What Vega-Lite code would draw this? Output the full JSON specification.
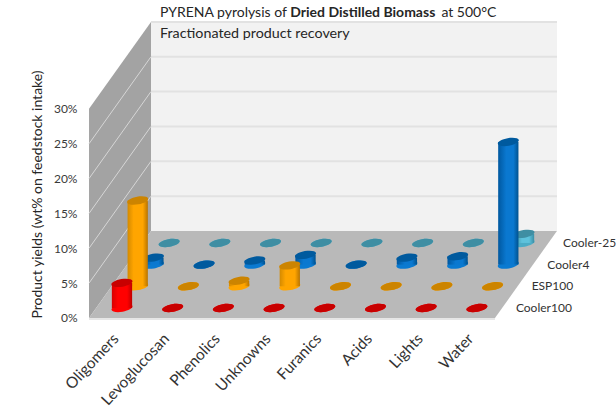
{
"$schema":"https://vega.github.io/schema/vega-lite/v6.json",
"width":616,"height":415,"padding":0,"autosize":{"type":"none"},"background":"white",
"config":{"view":{"stroke":null},"font":"Lato"},
"datasets":{
"depth":[{"d":0},{"d":1}],
"ticks":[{"t":5},{"t":10},{"t":15},{"t":20},{"t":25},{"t":30}],
"bars":[
{"category":"Oligomers","series":"Cooler100","value":3.6},{"category":"Levoglucosan","series":"Cooler100","value":0},{"category":"Phenolics","series":"Cooler100","value":0},{"category":"Unknowns","series":"Cooler100","value":0},{"category":"Furanics","series":"Cooler100","value":0},{"category":"Acids","series":"Cooler100","value":0},{"category":"Lights","series":"Cooler100","value":0},{"category":"Water","series":"Cooler100","value":0},
{"category":"Oligomers","series":"ESP100","value":12.3},{"category":"Levoglucosan","series":"ESP100","value":0},{"category":"Phenolics","series":"ESP100","value":0.8},{"category":"Unknowns","series":"ESP100","value":3},{"category":"Furanics","series":"ESP100","value":0},{"category":"Acids","series":"ESP100","value":0},{"category":"Lights","series":"ESP100","value":0},{"category":"Water","series":"ESP100","value":0},
{"category":"Oligomers","series":"Cooler4","value":1},{"category":"Levoglucosan","series":"Cooler4","value":0},{"category":"Phenolics","series":"Cooler4","value":0.6},{"category":"Unknowns","series":"Cooler4","value":1.4},{"category":"Furanics","series":"Cooler4","value":0},{"category":"Acids","series":"Cooler4","value":1},{"category":"Lights","series":"Cooler4","value":1.2},{"category":"Water","series":"Cooler4","value":17.6},
{"category":"Oligomers","series":"Cooler-25","value":0},{"category":"Levoglucosan","series":"Cooler-25","value":0},{"category":"Phenolics","series":"Cooler-25","value":0},{"category":"Unknowns","series":"Cooler-25","value":0},{"category":"Furanics","series":"Cooler-25","value":0},{"category":"Acids","series":"Cooler-25","value":0},{"category":"Lights","series":"Cooler-25","value":0},{"category":"Water","series":"Cooler-25","value":1.3}
]},
"data":{"name":"bars"},
"transform":[
{"calculate":"indexof(['Oligomers','Levoglucosan','Phenolics','Unknowns','Furanics','Acids','Lights','Water'],datum.category)","as":"c"},
{"calculate":"indexof(['Cooler100','ESP100','Cooler4','Cooler-25'],datum.series)","as":"s"},
{"calculate":"datum.c+0.31*datum.s","as":"px"},
{"calculate":"datum.px+0.2","as":"px2"},
{"calculate":"1.435+3.11*datum.s","as":"base"},
{"calculate":"datum.base+datum.value","as":"py"}
],
"encoding":{
"x":{"field":"px","type":"quantitative","scale":{"domain":[-2.406,9.744],"range":[0,616],"nice":false,"zero":false},"axis":null},
"y":{"field":"py","type":"quantitative","scale":{"domain":[-13.92,45.62],"range":[415,0],"nice":false,"zero":false},
"axis":{"values":[0,5,10,15,20,25,30],"labelExpr":"datum.value+'%'","offset":-80,"domain":false,"ticks":false,"grid":false,"labelPadding":3,"labelFont":"Lato","labelFontSize":12,"labelColor":"#3a3a3a","title":"Product yields (wt% on feedstock intake)","titleFont":"Lato","titleFontSize":14,"titleFontWeight":"normal","titleColor":"#262626","titleX":-36,"titleY":194}}
},
"layer":[
{"data":{"name":"depth"},"transform":[{"filter":"datum.d==0"},{"calculate":"0.572","as":"px"},{"calculate":"8.58","as":"px2"},{"calculate":"12.48","as":"py"},{"calculate":"42.48","as":"py2"}],
"mark":{"type":"rect","fill":"#f2f2f2"},"encoding":{"x2":{"field":"px2"},"y2":{"field":"py2"}}},
{"data":{"name":"ticks"},"transform":[{"calculate":"0.572","as":"px"},{"calculate":"8.58","as":"px2"},{"calculate":"datum.t+12.48","as":"py"}],
"mark":{"type":"rule","stroke":"#e2e2e2","strokeWidth":2},"encoding":{"x2":{"field":"px2"}}},
{"data":{"name":"depth"},"transform":[{"calculate":"-0.65+1.222*datum.d","as":"px"},{"calculate":"12.48*datum.d","as":"py"},{"calculate":"30+12.48*datum.d","as":"py2"}],
"mark":{"type":"area","orient":"vertical","fill":"#a3a3a3"},"encoding":{"y2":{"field":"py2"}}},
{"data":{"name":"ticks"},"transform":[{"filter":"datum.t<30"},{"calculate":"-0.65","as":"px"},{"calculate":"0.572","as":"px2"},{"calculate":"datum.t","as":"py"},{"calculate":"datum.t+12.48","as":"py2"}],
"mark":{"type":"rule","stroke":"#d6d6d6","strokeWidth":1},"encoding":{"x2":{"field":"px2"},"y2":{"field":"py2"}}},
{"data":{"name":"depth"},"transform":[{"calculate":"-0.65+1.222*datum.d","as":"px"},{"calculate":"7.357+1.222*datum.d","as":"px2"},{"calculate":"12.48*datum.d","as":"py"}],
"mark":{"type":"area","orient":"horizontal","fill":"#b9b9b9"},"encoding":{"x2":{"field":"px2"}}},
{"data":{"name":"depth"},"transform":[{"filter":"datum.d==0"},{"calculate":"-0.65","as":"px"},{"calculate":"7.357","as":"px2"},{"calculate":"-0.15","as":"py"}],
"mark":{"type":"rule","stroke":"#e6e6e6","strokeWidth":2},"encoding":{"x2":{"field":"px2"}}},

{"transform":[{"filter":"datum.series=='Cooler-25'"}],"layer":[
{"transform":[{"calculate":"datum.base","as":"py"}],"mark":{"type":"point","filled":true,"opacity":1,"size":454,"fill":"#4bacc6","strokeWidth":0,"shape":"M0.985,-0.174C1.02,0.022,0.606,0.259,0.0625,0.355C-0.481,0.451,-0.95,0.37,-0.985,0.174C-1.02,-0.022,-0.606,-0.259,-0.0625,-0.355C0.481,-0.451,0.95,-0.37,0.985,-0.174Z"}},
{"transform":[{"calculate":"datum.px-0.2","as":"px"}],"mark":{"type":"rect","fill":{"gradient":"linear","x1":0,"y1":0,"x2":1,"y2":0,"stops":[{"offset":0,"color":"#3a8ea5"},{"offset":0.4,"color":"#5ec2dc"},{"offset":0.75,"color":"#5ec2dc"},{"offset":1,"color":"#3a8ea5"}]}},"encoding":{"x2":{"field":"px2"},"y2":{"field":"base"}}},
{"mark":{"type":"point","filled":true,"opacity":1,"size":454,"fill":"#3f8ea3","strokeWidth":0,"shape":"M0.985,-0.174C1.02,0.022,0.606,0.259,0.0625,0.355C-0.481,0.451,-0.95,0.37,-0.985,0.174C-1.02,-0.022,-0.606,-0.259,-0.0625,-0.355C0.481,-0.451,0.95,-0.37,0.985,-0.174Z"}}
]},
{"transform":[{"filter":"datum.series=='Cooler4'"}],"layer":[
{"transform":[{"calculate":"datum.base","as":"py"}],"mark":{"type":"point","filled":true,"opacity":1,"size":454,"fill":"#0a7ad1","strokeWidth":0,"shape":"M0.985,-0.174C1.02,0.022,0.606,0.259,0.0625,0.355C-0.481,0.451,-0.95,0.37,-0.985,0.174C-1.02,-0.022,-0.606,-0.259,-0.0625,-0.355C0.481,-0.451,0.95,-0.37,0.985,-0.174Z"}},
{"transform":[{"calculate":"datum.px-0.2","as":"px"}],"mark":{"type":"rect","fill":{"gradient":"linear","x1":0,"y1":0,"x2":1,"y2":0,"stops":[{"offset":0,"color":"#0058a0"},{"offset":0.4,"color":"#0a78d0"},{"offset":0.75,"color":"#0a78d0"},{"offset":1,"color":"#00528f"}]}},"encoding":{"x2":{"field":"px2"},"y2":{"field":"base"}}},
{"mark":{"type":"point","filled":true,"opacity":1,"size":454,"fill":"#005a9e","strokeWidth":0,"shape":"M0.985,-0.174C1.02,0.022,0.606,0.259,0.0625,0.355C-0.481,0.451,-0.95,0.37,-0.985,0.174C-1.02,-0.022,-0.606,-0.259,-0.0625,-0.355C0.481,-0.451,0.95,-0.37,0.985,-0.174Z"}}
]},
{"transform":[{"filter":"datum.series=='ESP100'"}],"layer":[
{"transform":[{"calculate":"datum.base","as":"py"}],"mark":{"type":"point","filled":true,"opacity":1,"size":454,"fill":"#ffa500","strokeWidth":0,"shape":"M0.985,-0.174C1.02,0.022,0.606,0.259,0.0625,0.355C-0.481,0.451,-0.95,0.37,-0.985,0.174C-1.02,-0.022,-0.606,-0.259,-0.0625,-0.355C0.481,-0.451,0.95,-0.37,0.985,-0.174Z"}},
{"transform":[{"calculate":"datum.px-0.2","as":"px"}],"mark":{"type":"rect","fill":{"gradient":"linear","x1":0,"y1":0,"x2":1,"y2":0,"stops":[{"offset":0,"color":"#d48a00"},{"offset":0.3,"color":"#ffa500"},{"offset":0.75,"color":"#ffa500"},{"offset":1,"color":"#b87400"}]}},"encoding":{"x2":{"field":"px2"},"y2":{"field":"base"}}},
{"mark":{"type":"point","filled":true,"opacity":1,"size":454,"fill":"#cc8400","strokeWidth":0,"shape":"M0.985,-0.174C1.02,0.022,0.606,0.259,0.0625,0.355C-0.481,0.451,-0.95,0.37,-0.985,0.174C-1.02,-0.022,-0.606,-0.259,-0.0625,-0.355C0.481,-0.451,0.95,-0.37,0.985,-0.174Z"}}
]},
{"transform":[{"filter":"datum.series=='Cooler100'"}],"layer":[
{"transform":[{"calculate":"datum.base","as":"py"}],"mark":{"type":"point","filled":true,"opacity":1,"size":454,"fill":"#ff0000","strokeWidth":0,"shape":"M0.985,-0.174C1.02,0.022,0.606,0.259,0.0625,0.355C-0.481,0.451,-0.95,0.37,-0.985,0.174C-1.02,-0.022,-0.606,-0.259,-0.0625,-0.355C0.481,-0.451,0.95,-0.37,0.985,-0.174Z"}},
{"transform":[{"calculate":"datum.px-0.2","as":"px"}],"mark":{"type":"rect","fill":{"gradient":"linear","x1":0,"y1":0,"x2":1,"y2":0,"stops":[{"offset":0,"color":"#d80000"},{"offset":0.3,"color":"#ff0000"},{"offset":0.75,"color":"#ff0000"},{"offset":1,"color":"#c00000"}]}},"encoding":{"x2":{"field":"px2"},"y2":{"field":"base"}}},
{"mark":{"type":"point","filled":true,"opacity":1,"size":454,"fill":"#c80000","strokeWidth":0,"shape":"M0.985,-0.174C1.02,0.022,0.606,0.259,0.0625,0.355C-0.481,0.451,-0.95,0.37,-0.985,0.174C-1.02,-0.022,-0.606,-0.259,-0.0625,-0.355C0.481,-0.451,0.95,-0.37,0.985,-0.174Z"}}
]},

{"transform":[{"filter":"datum.series=='Cooler100'"},{"calculate":"datum.c-0.12","as":"px"},{"calculate":"-2.6","as":"py"}],
"mark":{"type":"text","font":"Lato","fontSize":15.5,"angle":313,"align":"right","baseline":"middle","fill":"#333333"},"encoding":{"text":{"field":"category"}}},
{"transform":[{"filter":"datum.category=='Water'"},{"calculate":"7.77+0.31*datum.s","as":"px"}],
"mark":{"type":"text","font":"Lato","fontSize":12,"align":"left","baseline":"middle","fill":"#333333"},"encoding":{"y":{"field":"base","type":"quantitative"},"text":{"field":"series"}}},
{"data":{"values":[{"t":"PYRENA pyrolysis of"}]},"transform":[{"calculate":"0.75","as":"px"},{"calculate":"43.76","as":"py"}],"mark":{"type":"text","font":"Lato","fontSize":14,"align":"left","baseline":"middle","fill":"#262626"},"encoding":{"text":{"field":"t"}}},
{"data":{"values":[{"t":"Dried Distilled Biomass"}]},"transform":[{"calculate":"3.32","as":"px"},{"calculate":"43.76","as":"py"}],"mark":{"type":"text","font":"Lato","fontSize":14,"fontWeight":"bold","align":"left","baseline":"middle","fill":"#262626"},"encoding":{"text":{"field":"t"}}},
{"data":{"values":[{"t":"at 500°C"}]},"transform":[{"calculate":"6.3","as":"px"},{"calculate":"43.76","as":"py"}],"mark":{"type":"text","font":"Lato","fontSize":14,"align":"left","baseline":"middle","fill":"#262626"},"encoding":{"text":{"field":"t"}}},
{"data":{"values":[{"t":"Fractionated product recovery"}]},"transform":[{"calculate":"0.75","as":"px"},{"calculate":"40.75","as":"py"}],"mark":{"type":"text","font":"Lato","fontSize":14.3,"align":"left","baseline":"middle","fill":"#262626"},"encoding":{"text":{"field":"t"}}}
]
}
